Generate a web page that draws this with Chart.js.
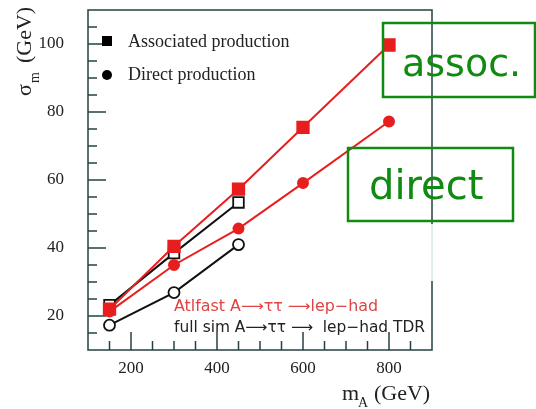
<!DOCTYPE html>
<html>
<head>
<meta charset="utf-8">
<script src="https://cdn.jsdelivr.net/npm/chart.js@4"></script>
<style>
  html, body { margin: 0; padding: 0; background: #fff; }
  #wrap { width: 536px; height: 409px; position: relative; }
</style>
</head>
<body>
<div id="wrap"><canvas id="c"></canvas></div>
<script>
// m_A values (GeV)
const massFull = [150, 300, 450, 600, 800];
const massTdr = [150, 300, 450];

// sigma_m (GeV)
const assocFast = [22, 40.5, 57.3, 75.5, 99.7];
const directFast = [21.3, 35, 45.7, 59.1, 77.2];
const assocTdr = [23.2, 38.5, 53.4];
const directTdr = [17.3, 26.9, 41];

const xLabels = [200, 400, 600, 800];
const yLabels = [20, 40, 60, 80, 100];

const RED = "#e81e1e";
const AXIS = "#244040";
const GREEN = "#108a10";

function pts(xs, ys) {
    return xs.map((x, i) => ({ x, y: ys[i] }));
}

// draw text squeezed/stretched to a given width
function fitText(ctx, txt, x, y, w) {
    const m = ctx.measureText(txt).width;
    ctx.save();
    ctx.translate(x, y);
    ctx.scale(w / m, 1);
    ctx.fillText(txt, 0, 0);
    ctx.restore();
}

const decor = {
    id: "decor",
    beforeDatasetsDraw(chart) {
        const { ctx, chartArea: a, scales: { x, y } } = chart;
        ctx.save();
        ctx.strokeStyle = AXIS;
        ctx.lineWidth = 1.5;
        ctx.strokeRect(a.left, a.top, a.right - a.left, a.bottom - a.top);

        // inward ticks, major + minor
        for (let v = 150; v < 900; v += 50) {
            const px = x.getPixelForValue(v);
            const len = xLabels.includes(v) ? 18 : 9;
            ctx.beginPath();
            ctx.moveTo(px, a.bottom);
            ctx.lineTo(px, a.bottom - len);
            ctx.stroke();
        }
        for (let v = 15; v < 110; v += 5) {
            const py = y.getPixelForValue(v);
            const len = yLabels.includes(v) ? 18 : 9;
            ctx.beginPath();
            ctx.moveTo(a.left, py);
            ctx.lineTo(a.left + len, py);
            ctx.stroke();
        }
        ctx.restore();
    },
    afterDraw(chart) {
        const { ctx } = chart;
        ctx.save();

        // legend
        ctx.fillStyle = "#000";
        ctx.fillRect(102, 36, 10, 10);
        ctx.beginPath();
        ctx.arc(107, 75, 5, 0, Math.PI * 2);
        ctx.fill();
        ctx.font = "18px 'Liberation Serif'";
        ctx.textBaseline = "middle";
        ctx.fillStyle = "#222";
        ctx.fillText("Associated production", 128, 42);
        ctx.fillText("Direct production", 128, 75);

        // notes
        ctx.font = "15px 'DejaVu Sans'";
        ctx.fillStyle = "#e04444";
        fitText(ctx, "Atlfast A\u27f6\u03c4\u03c4 \u27f6lep\u2212had", 174, 307, 204);
        ctx.fillStyle = "#222";
        fitText(ctx, "full sim A\u27f6\u03c4\u03c4 \u27f6  lep\u2212had TDR", 174, 328, 251);

        // axis titles
        ctx.fillStyle = "#222";
        ctx.textBaseline = "alphabetic";
        ctx.font = "22px 'Liberation Serif'";
        ctx.fillText("m", 342, 400);
        ctx.font = "14px 'Liberation Serif'";
        ctx.fillText("A", 358, 407);
        ctx.font = "22px 'Liberation Serif'";
        ctx.fillText("(GeV)", 374, 400);

        ctx.save();
        ctx.translate(31, 96);
        ctx.rotate(-Math.PI / 2);
        ctx.fillText("\u03c3", 0, 0);
        ctx.font = "14px 'Liberation Serif'";
        ctx.fillText("m", 13, 8);
        ctx.font = "22px 'Liberation Serif'";
        ctx.fillText("(GeV)", 33, 0);
        ctx.restore();

        // patch over the frame below the labels
        ctx.fillStyle = "#fff";
        ctx.fillRect(420, 224, 16, 57);
        ctx.strokeStyle = "#c4dede";
        ctx.lineWidth = 1;
        ctx.beginPath();
        ctx.moveTo(432, 224);
        ctx.lineTo(432, 281);
        ctx.stroke();

        // green callouts
        ctx.strokeStyle = GREEN;
        ctx.lineWidth = 2.5;
        ctx.strokeRect(383, 23, 152, 74);
        ctx.strokeRect(348, 148, 165, 73);
        ctx.fillStyle = GREEN;
        ctx.font = "38px 'DejaVu Sans'";
        ctx.fillText("assoc.", 402, 76);
        ctx.font = "40px 'DejaVu Sans'";
        ctx.fillText("direct", 369, 199);
        ctx.restore();
    }
};

function noPad(s) {
    s.paddingTop = 0;
    s.paddingBottom = 0;
    s.paddingLeft = 0;
    s.paddingRight = 0;
}

new Chart(document.getElementById("c"), {
    type: "line",
    data: {
        datasets: [
            {
                label: "assoc atlfast",
                data: pts(massFull, assocFast),
                borderColor: RED,
                backgroundColor: RED,
                borderWidth: 2,
                pointStyle: "rect",
                pointRadius: 8,
                order: 1
            },
            {
                label: "direct atlfast",
                data: pts(massFull, directFast),
                borderColor: RED,
                backgroundColor: RED,
                borderWidth: 2,
                pointRadius: 5,
                order: 2
            },
            {
                label: "assoc TDR",
                data: pts(massTdr, assocTdr),
                borderColor: "#111",
                backgroundColor: "#fff",
                borderWidth: 2,
                pointStyle: "rect",
                pointRadius: 7.5,
                pointBorderWidth: 1.8,
                order: 3
            },
            {
                label: "direct TDR",
                data: pts(massTdr, directTdr),
                borderColor: "#111",
                backgroundColor: "#fff",
                borderWidth: 2,
                pointRadius: 5.5,
                pointBorderWidth: 1.8,
                order: 4
            }
        ]
    },
    options: {
        responsive: true,
        maintainAspectRatio: false,
        animation: false,
        layout: { padding: { left: 0, top: 6, right: 104, bottom: 0 } },
        scales: {
            x: {
                type: "linear",
                min: 100,
                max: 900,
                afterBuildTicks: (s) => { s.ticks = xLabels.map(v => ({ value: v })); },
                afterFit: (s) => { s.height = 59; noPad(s); },
                grid: { display: false, drawTicks: false },
                border: { display: false },
                ticks: {
                    padding: 8,
                    color: "#222",
                    font: { family: "'Liberation Serif'", size: 17 }
                }
            },
            y: {
                min: 10,
                max: 110,
                afterBuildTicks: (s) => { s.ticks = yLabels.map(v => ({ value: v })); },
                afterFit: (s) => { s.width = 88; noPad(s); },
                grid: { display: false, drawTicks: false },
                border: { display: false },
                ticks: {
                    padding: 24,
                    color: "#222",
                    font: { family: "'Liberation Serif'", size: 17 }
                }
            }
        },
        plugins: {
            legend: { display: false },
            tooltip: { enabled: false }
        }
    },
    plugins: [decor]
});
</script>
</body>
</html>
